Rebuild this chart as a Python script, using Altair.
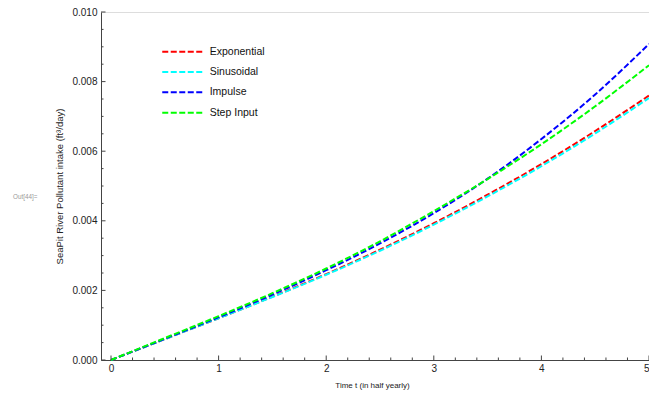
import altair as alt
import pandas as pd

# ---- data ----
t_values = [0, 0.5, 1, 1.5, 2, 2.5, 3, 3.5, 4, 4.5, 5]
exponential = [0, 0.00060, 0.00120, 0.00182, 0.00247, 0.00317, 0.00393, 0.00475, 0.00563, 0.00658, 0.00760]
sinusoidal = [0, 0.00060, 0.00120, 0.00181, 0.00245, 0.00314, 0.00389, 0.00470, 0.00557, 0.00651, 0.00753]
impulse = [0, 0.00061, 0.00123, 0.00188, 0.00258, 0.00335, 0.00422, 0.00521, 0.00635, 0.00763, 0.00908]
step_input = [0, 0.00063, 0.00126, 0.00192, 0.00263, 0.00341, 0.00428, 0.00520, 0.00620, 0.00729, 0.00847]

series_names = ["Exponential", "Sinusoidal", "Impulse", "Step Input"]
series_colors = ["#ff0000", "#00ffff", "#0000ff", "#00ff00"]

x_major_ticks = [0, 1, 2, 3, 4, 5]
x_minor_ticks = [0.2, 0.4, 0.6, 0.8, 1.2, 1.4, 1.6, 1.8, 2.2, 2.4, 2.6, 2.8,
                 3.2, 3.4, 3.6, 3.8, 4.2, 4.4, 4.6, 4.8]
y_major_ticks = [0, 0.002, 0.004, 0.006, 0.008, 0.010]
y_minor_ticks = [0.0005, 0.001, 0.0015, 0.0025, 0.003, 0.0035, 0.0045, 0.005, 0.0055,
                 0.0065, 0.007, 0.0075, 0.0085, 0.009, 0.0095]

rows = []
for name, vals in zip(series_names, [exponential, sinusoidal, impulse, step_input]):
    for t, v in zip(t_values, vals):
        rows.append({"t": t, "value": v, "series": name})
df = pd.DataFrame(rows)

W, H = 548, 348
FONT = "Liberation Sans"
AX = "#444444"

x_scale = alt.Scale(domain=[-0.093, 5.0], nice=False, zero=False)
y_scale = alt.Scale(domain=[0, 0.010], nice=False, zero=False)

lines = alt.Chart(df).mark_line(strokeWidth=2, strokeDash=[6, 2.5], interpolate="monotone").encode(
    x=alt.X("t:Q", scale=x_scale,
            axis=alt.Axis(title="Time t (in half yearly)", values=x_major_ticks, format="d",
                          ticks=False, tickSize=0, labelPadding=3, domainColor=AX,
                          labelColor="#222222", labelFontSize=10, labelFont=FONT,
                          titleFont=FONT, titleFontSize=8, titleFontWeight="normal",
                          titleColor="#222222", titleX=271, titleY=27.5,
                          titleBaseline="alphabetic", grid=False)),
    y=alt.Y("value:Q", scale=y_scale,
            axis=alt.Axis(title="SeaPit River Pollutant intake (ft³/day)", values=y_major_ticks,
                          format=".3f", ticks=False, tickSize=0, labelPadding=4, domainColor=AX,
                          labelColor="#222222", labelFontSize=10, labelFont=FONT,
                          titleFont=FONT, titleFontSize=9.5, titleFontWeight="normal",
                          titleColor="#222222", titlePadding=7, grid=False)),
    color=alt.Color("series:N", title=None,
                    scale=alt.Scale(domain=series_names, range=series_colors),
                    legend=alt.Legend(orient="none", legendX=76, legendY=34.5,
                                      symbolType="M-20,0H20", symbolSize=4,
                                      symbolStrokeWidth=2, symbolDash=[6, 2.5],
                                      labelFontSize=10.5, labelFont=FONT, labelColor="#111111",
                                      labelOffset=22.2, rowPadding=9.3, padding=0)),
)

xt_major = alt.Chart(pd.DataFrame({"t": x_major_ticks})).mark_rule(color=AX, strokeWidth=1).encode(
    x=alt.X("t:Q", scale=x_scale), y=alt.value(H), y2=alt.value(H - 4.5))
xt_minor = alt.Chart(pd.DataFrame({"t": x_minor_ticks})).mark_rule(color=AX, strokeWidth=1).encode(
    x=alt.X("t:Q", scale=x_scale), y=alt.value(H), y2=alt.value(H - 2.5))
yt_major = alt.Chart(pd.DataFrame({"value": y_major_ticks})).mark_rule(color=AX, strokeWidth=1).encode(
    y=alt.Y("value:Q", scale=y_scale), x=alt.value(0), x2=alt.value(4.5))
yt_minor = alt.Chart(pd.DataFrame({"value": y_minor_ticks})).mark_rule(color=AX, strokeWidth=1).encode(
    y=alt.Y("value:Q", scale=y_scale), x=alt.value(0), x2=alt.value(2.5))

out_label = alt.Chart(pd.DataFrame({"label": ["Out[44]="]})).mark_text(
    align="left", baseline="middle", font=FONT, fontSize=6.3, color="#999999").encode(
    text="label:N", x=alt.value(-88), y=alt.value(185))

chart = alt.layer(lines, xt_major, xt_minor, yt_major, yt_minor, out_label).properties(
    width=W, height=H,
    padding={"left": 93, "top": 4, "right": 0, "bottom": 33},
    autosize=alt.AutoSizeParams(type="none"),
).configure_view(stroke=None).configure(background="white")

chart.save("out.html", embed_options={"renderer": "svg", "actions": False})
